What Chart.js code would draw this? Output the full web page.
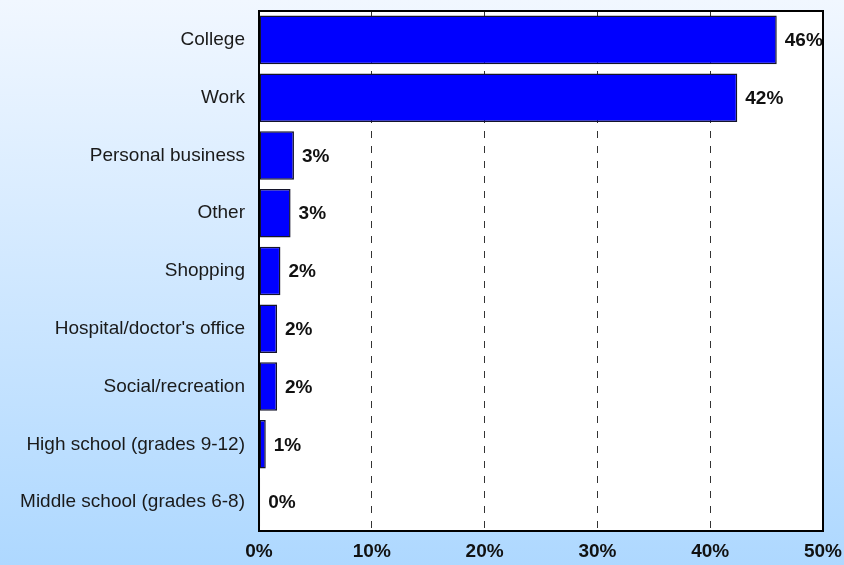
<!DOCTYPE html>
<html>
<head>
<meta charset="utf-8">
<script src="https://cdn.jsdelivr.net/npm/chart.js@4/dist/chart.umd.min.js"></script>
<style>
  html, body { margin: 0; padding: 0; }
  body { width: 844px; height: 565px; overflow: hidden; }
  #wrap { width: 844px; height: 565px; }
</style>
</head>
<body>
<div id="wrap"><canvas id="c" width="844" height="565"></canvas></div>
<script>
// Trip purposes, share of trips (%)
const categories = [
  'College',
  'Work',
  'Personal business',
  'Other',
  'Shopping',
  'Hospital/doctor\'s office',
  'Social/recreation',
  'High school (grades 9-12)',
  'Middle school (grades 6-8)'
];
const shares = [45.9, 42.4, 3.1, 2.8, 1.9, 1.6, 1.6, 0.6, 0.1];
const tickValues = [0, 10, 20, 30, 40, 50];

const FONT = '"Liberation Sans", Arial, Helvetica, sans-serif';

// Page gradient behind everything, white plot area, black frame
const framePlugin = {
  id: 'frame',
  beforeDraw(chart) {
    const { ctx, width, height, chartArea: a } = chart;
    ctx.save();
    const g = ctx.createLinearGradient(0, 0, 0, height);
    g.addColorStop(0, '#f1f7ff');
    g.addColorStop(1, '#aed8ff');
    ctx.fillStyle = g;
    ctx.fillRect(0, 0, width, height);
    ctx.fillStyle = '#ffffff';
    ctx.fillRect(a.left, a.top, a.right - a.left, a.bottom - a.top);
    ctx.restore();
  },
  afterDraw(chart) {
    const { ctx, chartArea: a } = chart;
    ctx.save();
    ctx.strokeStyle = '#000000';
    ctx.lineWidth = 2;
    ctx.strokeRect(a.left, a.top, a.right - a.left, a.bottom - a.top);
    ctx.restore();
  }
};

// Percent labels at the end of each bar
const valueLabels = {
  id: 'valueLabels',
  afterDatasetsDraw(chart) {
    const { ctx } = chart;
    const meta = chart.getDatasetMeta(0);
    const data = chart.data.datasets[0].data;
    ctx.save();
    ctx.font = 'bold 19px ' + FONT;
    ctx.fillStyle = '#111111';
    ctx.textAlign = 'left';
    ctx.textBaseline = 'middle';
    meta.data.forEach((bar, i) => {
      ctx.fillText(Math.round(data[i]) + '%', bar.x + 8, bar.y + 1);
    });
    ctx.restore();
  }
};

new Chart(document.getElementById('c'), {
  type: 'bar',
  data: {
    labels: categories,
    datasets: [{
      data: shares,
      backgroundColor: '#0000ff',
      borderColor: '#14142a',
      borderWidth: 1.5,
      borderSkipped: false,
      categoryPercentage: 1,
      barPercentage: 0.84
    }]
  },
  options: {
    indexAxis: 'y',
    responsive: false,
    animation: false,
    events: [],
    layout: { padding: { top: 11, right: 21, left: 0, bottom: 0 } },
    plugins: {
      legend: { display: false },
      tooltip: { enabled: false }
    },
    scales: {
      x: {
        min: 0,
        max: 50,
        afterBuildTicks(scale) {
          scale.ticks = tickValues.map(v => ({ value: v }));
        },
        afterFit(scale) {
          scale.height = 34;
          scale.paddingLeft = 0;
          scale.paddingRight = 0;
        },
        border: { display: false, dash: [7, 8] },
        grid: {
          drawTicks: false,
          color(ctx) {
            const v = ctx.tick ? ctx.tick.value : null;
            return (v === 0 || v === 50) ? 'rgba(0,0,0,0)' : '#333333';
          },
          lineWidth: 1
        },
        ticks: {
          padding: 9,
          color: '#111111',
          font: { family: FONT, size: 19, weight: 'bold' },
          callback: v => v + '%'
        }
      },
      y: {
        afterFit(scale) {
          scale.width = 259;
          scale.paddingTop = 0;
          scale.paddingBottom = 0;
        },
        border: { display: false },
        grid: { display: false, drawTicks: false },
        ticks: {
          padding: 14,
          color: '#1a1a1a',
          font: { family: FONT, size: 19 }
        }
      }
    }
  },
  plugins: [framePlugin, valueLabels]
});
</script>
</body>
</html>
